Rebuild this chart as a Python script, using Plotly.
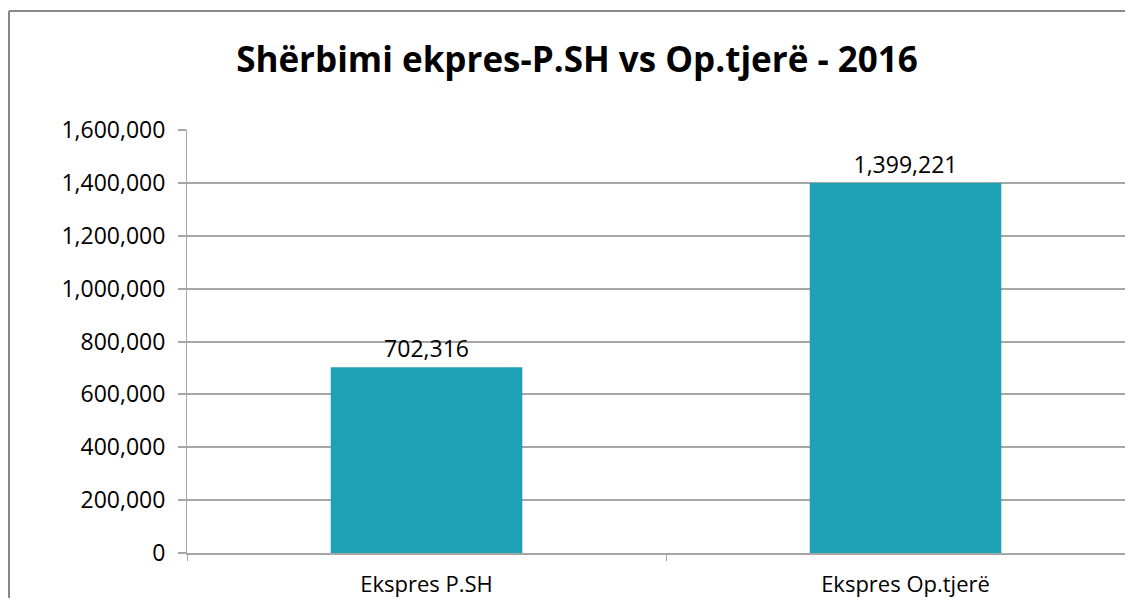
import plotly.graph_objects as go

categories = ["Ekspres P.SH", "Ekspres Op.tjerë"]
values = [702316, 1399221]
title_text = "Shërbimi ekpres-P.SH vs Op.tjerë - 2016"
y_ticks = [0, 200000, 400000, 600000, 800000, 1000000, 1200000, 1400000, 1600000]

# page has an 8px body margin, so figure coords = screen coords - 8
W, H = 1125, 590
L, R_px, T, B = 179, 1125, 122, 549  # plot area in figure pixels

FONT = "Open Sans"
grid = "#a6a6a6"
border = "#888888"

fig = go.Figure()
fig.add_trace(go.Bar(
    x=categories, y=values, width=0.4,
    marker=dict(color="#1fa1b5", line=dict(width=0)),
    text=[f"{v:,}" for v in values], textposition="outside",
    textfont=dict(family=FONT, size=23, color="#000000"),
    cliponaxis=False,
))

pw = R_px - L
ph = B - T
bx0 = (1 - L) / pw
by1 = (B - 2) / ph
cat_w = 479  # pixel width of one category slot
fig.update_layout(
    width=W, height=H,
    margin=dict(l=L, r=W - R_px, t=T, b=H - B, pad=0),
    paper_bgcolor="white", plot_bgcolor="white",
    showlegend=False,
    title=dict(text=title_text, x=569 / W, xanchor="center", y=1 - 52 / H, yanchor="middle",
               font=dict(family=FONT, size=35, color="#000000", weight="bold")),
    font=dict(family=FONT, color="#000000"),
    xaxis=dict(
        type="category", range=[-0.5, -0.5 + pw / cat_w],
        showline=True, linecolor=grid, linewidth=2,
        ticks="outside", tickson="boundaries", ticklen=6, tickcolor=grid, tickwidth=1,
        tickfont=dict(family=FONT, size=22, color="#000000"),
        ticklabelstandoff=11,
        showgrid=False,
    ),
    yaxis=dict(
        range=[0, 1600000], tickvals=y_ticks, tickformat=",d",
        showgrid=True, gridcolor=grid, gridwidth=2,
        showline=True, linecolor=grid, linewidth=1,
        ticks="outside", ticklen=8, tickcolor=grid, tickwidth=2,
        tickfont=dict(family=FONT, size=23, color="#000000"),
        ticklabelstandoff=8,
        zeroline=False,
    ),
    shapes=[
        dict(type="line", xref="paper", yref="paper", x0=bx0, x1=bx0, y0=(B - 700) / ph, y1=by1,
             line=dict(color=border, width=2), layer="below"),
        dict(type="line", xref="paper", yref="paper", x0=bx0, x1=(1300 - L) / pw, y0=by1, y1=by1,
             line=dict(color=border, width=2), layer="below"),
    ],
)

fig.write_html("out.html")
